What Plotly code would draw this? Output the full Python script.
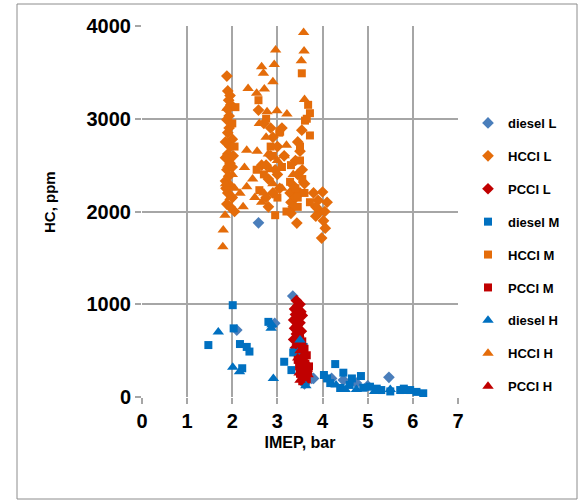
import plotly.graph_objects as go

# ---- data (IMEP bar, HC ppm) ----
diesel_L_x = [3.34, 2.94, 2.10, 3.80, 2.58, 5.47, 4.46, 3.76, 4.75, 4.20, 5.00, 3.60]
diesel_L_y = [1088, 795, 722, 200, 1878, 212, 183, 200, 150, 200, 120, 140]

hcci_L_x = [1.88, 1.90, 1.95, 1.92, 1.90, 1.93, 1.88, 2.00, 1.95, 1.90, 1.85, 1.95, 1.88, 1.92,
            1.85, 1.95, 1.90, 2.00, 1.88, 2.05, 1.93, 2.02, 1.86,
            2.58, 2.70, 2.90, 3.00, 2.85, 2.95, 2.80, 3.05, 2.75, 2.80, 3.10, 3.15, 2.65,
            3.54, 3.28, 3.30, 3.35, 3.43, 3.50, 3.45, 3.60, 3.40,
            4.00, 3.90, 4.06, 3.98, 3.85, 4.10, 3.95, 3.80, 4.02,
            1.97, 1.90, 1.85, 2.00, 1.95, 2.90, 3.00, 2.85, 3.35, 3.40, 3.50, 3.30, 3.55,
            3.45, 2.75, 3.85, 4.05]
hcci_L_y = [3460, 3300, 3250, 3200, 3100, 3030, 2990, 2780, 2700, 2620, 2580, 2520, 2450, 2380,
            2330, 2280, 2200, 2150, 2080, 2000, 2900, 2600, 2250,
            3093, 2950, 2800, 2700, 2600, 2450, 2350, 2250, 2150, 2050, 2900, 2600, 2500,
            2877, 2200, 2100, 2050, 1875, 2650, 2400, 2300, 2550,
            2210, 2120, 1820, 1713, 1950, 2100, 2000, 2200, 1900,
            3150, 2850, 2750, 2480, 2050, 2200, 2400, 2900, 2280, 2150, 2200, 1980, 2450,
            2750, 2500, 2050, 2000]

pcci_L_x = [3.42, 3.50, 3.45, 3.38, 3.52, 3.40, 3.48, 3.36, 3.50, 3.44, 3.38, 3.53, 3.42, 3.47,
            3.36, 3.50, 3.44, 3.40, 3.55, 3.46]
pcci_L_y = [1040, 1000, 980, 950, 920, 890, 860, 830, 800, 770, 740, 710, 680, 650,
            620, 590, 560, 530, 880, 720]

diesel_M_x = [2.01, 1.47, 2.03, 2.17, 2.32, 2.38, 2.22, 2.80, 3.15, 3.31, 3.35, 3.58, 4.28, 4.03,
              4.46, 4.65, 4.85, 4.17, 4.39, 5.05, 5.30, 5.72, 5.94, 6.23, 6.08, 4.60, 4.90,
              5.20, 5.50, 3.62, 4.10, 5.80, 3.55]
diesel_M_y = [990, 560, 740, 571, 540, 490, 310, 810, 380, 290, 480, 540, 355, 237,
              262, 200, 226, 150, 97, 111, 75, 75, 75, 40, 55, 130, 100,
              90, 60, 160, 200, 90, 300]

hcci_M_x = [2.07, 2.58, 3.54, 3.68, 3.72, 3.61, 3.72, 3.04, 3.06, 3.50, 3.10, 2.54, 3.28, 3.72,
            2.95, 2.60, 2.05, 3.55, 3.45, 2.90, 3.20, 2.70, 3.65, 3.40,
            2.00, 3.30, 3.50, 2.85, 3.00, 3.45, 3.60, 2.75]
hcci_M_y = [3125, 3200, 3490, 3150, 3060, 2980, 2820, 2850, 2860, 2700, 2480, 2450, 2320, 2100,
            1960, 2230, 2700, 2350, 2150, 2600, 2000, 2400, 3000, 2250,
            2950, 2500, 2550, 2700, 2150, 2050, 2200, 3000]

pcci_M_x = [3.50, 3.55, 3.48, 3.60, 3.52, 3.65, 3.50, 3.58, 3.62, 3.48, 3.55, 3.68, 3.50, 3.60,
            3.65, 3.55, 3.45, 3.70, 3.58, 3.62]
pcci_M_y = [650, 600, 560, 520, 480, 450, 420, 390, 360, 330, 300, 280, 250, 220,
            190, 170, 400, 330, 460, 240]

diesel_H_x = [1.69, 2.01, 2.16, 2.86, 2.91, 3.50, 3.63, 4.50, 4.75, 5.15, 5.50, 5.90, 2.88, 3.45, 4.30]
diesel_H_y = [700, 320, 273, 740, 200, 615, 120, 80, 80, 60, 80, 60, 780, 480, 130]

hcci_H_x = [3.58, 2.96, 3.59, 3.53, 2.65, 2.93, 2.69, 2.35, 2.54, 2.71, 3.60, 2.99, 3.21, 2.77,
            1.88, 2.60, 2.32, 2.27, 2.32, 2.17, 2.24, 1.84, 1.80, 1.79, 3.20, 2.55, 2.75, 2.85,
            1.85, 2.90, 2.65, 3.10, 2.00, 1.95,
            2.80, 2.70, 3.00, 2.45, 2.50, 1.90, 2.05, 3.35, 2.90, 3.15]
hcci_H_y = [3930, 3740, 3730, 3624, 3560, 3585, 3490, 3327, 3275, 3320, 3208, 3085, 3050, 3075,
            3114, 2950, 2660, 2475, 2266, 2198, 2050, 1960, 1800, 1620, 2715, 2650, 2800, 2450,
            2300, 2300, 2100, 2250, 2400, 2150,
            2620, 2200, 2550, 2350, 2150, 2500, 2250, 2400, 3400, 2600]

pcci_H_x = [3.50, 3.58, 3.45, 3.62, 3.52, 3.66, 3.48, 3.56, 3.60, 3.50, 3.68, 3.54]
pcci_H_y = [500, 460, 420, 380, 340, 300, 260, 230, 200, 180, 240, 400]

x_ticks = [0, 1, 2, 3, 4, 5, 6, 7]
y_ticks = [0, 1000, 2000, 3000, 4000]

series = [
    ("diesel L", diesel_L_x, diesel_L_y, "diamond", "#4A7EBB", 9),
    ("HCCI L", hcci_L_x, hcci_L_y, "diamond", "#E46C0A", 9),
    ("PCCI L", pcci_L_x, pcci_L_y, "diamond", "#C00000", 9),
    ("diesel M", diesel_M_x, diesel_M_y, "square", "#0070C0", 8),
    ("HCCI M", hcci_M_x, hcci_M_y, "square", "#E46C0A", 8),
    ("PCCI M", pcci_M_x, pcci_M_y, "square", "#C00000", 8),
    ("diesel H", diesel_H_x, diesel_H_y, "triangle-up", "#0070C0", 10),
    ("HCCI H", hcci_H_x, hcci_H_y, "triangle-up", "#E46C0A", 10),
    ("PCCI H", pcci_H_x, pcci_H_y, "triangle-up", "#C00000", 10),
]

fig = go.Figure()
for name, xs, ys, sym, col, sz in series:
    fig.add_trace(go.Scatter(
        x=xs, y=ys, mode="markers", name=name, legendgroup=name,
        marker=dict(symbol=sym, color=col, size=sz, line=dict(width=0)),
    ))

FONT = "Liberation Sans, Arial, sans-serif"
L, R, T, B = 142, 122, 26, 104
PW, PH = 580 - L - R, 501 - T - B

fig.update_layout(
    width=580, height=501,
    margin=dict(l=L, r=R, t=T, b=B, autoexpand=False),
    paper_bgcolor="white", plot_bgcolor="white",
    font=dict(family=FONT, color="black"),
    showlegend=True,
    legend=dict(
        x=(468 - L) / PW, y=(501 - B - 108) / PH, xanchor="left", yanchor="top",
        font=dict(size=13, family=FONT, color="black", weight="bold"),
        tracegroupgap=13, itemwidth=30, bgcolor="rgba(0,0,0,0)",
    ),
    xaxis=dict(
        range=[0, 7], tickvals=x_ticks, ticktext=[str(v) for v in x_ticks],
        showgrid=True, gridcolor="#A6A6A6", gridwidth=1.5,
        zeroline=False, showline=False, automargin=False,
        ticks="outside", ticklen=6, tickcolor="#A6A6A6", tickwidth=1.5,
        tickfont=dict(size=20, family=FONT, weight="bold"),
        title=dict(text="IMEP, bar", font=dict(size=16, family=FONT, weight="bold"), standoff=5),
    ),
    yaxis=dict(
        range=[0, 4000], tickvals=y_ticks, ticktext=[str(v) for v in y_ticks],
        showgrid=True, gridcolor="#A6A6A6", gridwidth=1.5,
        zeroline=False, showline=False, automargin=False,
        ticks="outside", ticklen=6, tickcolor="#A6A6A6", tickwidth=1.5,
        tickfont=dict(size=20, family=FONT, weight="bold"),
    ),
    annotations=[dict(text="HC, ppm", textangle=-90, showarrow=False,
                      xref="paper", yref="paper",
                      x=(49 - L) / PW, y=(501 - B - 202) / PH,
                      xanchor="center", yanchor="middle",
                      font=dict(size=15, family=FONT, weight="bold", color="black"))],
    shapes=[dict(type="rect", xref="paper", yref="paper",
                 x0=(17 - L) / PW, x1=(577 - L) / PW,
                 y0=(501 - B - 499) / PH, y1=(501 - B - 4) / PH,
                 line=dict(color="#8C8C8C", width=1), fillcolor="rgba(0,0,0,0)", layer="below")],
)

fig.write_html("out.html", config={"displayModeBar": False},
               post_script="document.body.style.margin='0';")
